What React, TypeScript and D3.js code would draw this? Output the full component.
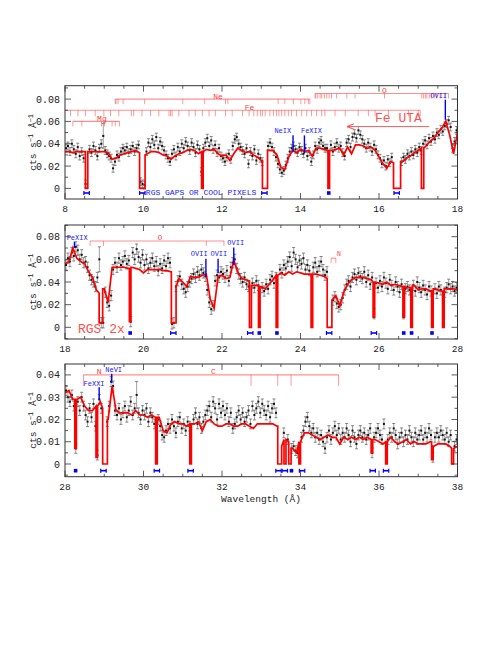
import React from 'react';
import * as d3 from 'd3';

const FONT = '"Liberation Mono", "DejaVu Sans Mono", monospace';
const L = 65;
const R = 457.5;

// ---- panel 1: 8-18 A, binned counts every 0.05 A (first bin centred 8.025)
const counts1 = [
  .036, .038, .033, .040, .035, .031, .037, .029, .033, .027,
  .004, null, .035, .032, .038, .034, .029, .036, .040, .047,
  .034, .031, .029, .027, .018, .024, .030, .028, .033, .036,
  .034, .037, .032, .035, .038, .033, .036, .039, .006, .004,
  .003, .033, .041, .037, .044, .039, .046, .036, .042, .038,
  .034, .030, .027, .024, .031, .035, .029, .037, .033, .040,
  .036, .042, .038, .034, .041, .037, .032, .039, .035, .015,
  .036, .041, .045, .038, .043, .035, .039, .032, .036, .029,
  .027, .024, .028, .031, .026, .038, .044, .046, .040, .037,
  .034, .031, .036, .022, .033, .029, .035, .025, .031, .027,
  .024, null, null, .038, .041, .037, .033, .028, .022, .017,
  .014, .016, .021, .027, .033, .036, .038, .035, .032, .037,
  .034, .031, .036, .029, .033, .024, .030, .038, .035, .041,
  .043, .038, .036, .036, null, .039, .033, .037, .041, .036,
  .038, .032, .029, .041, .044, .037, .046, .049, .045, .052,
  .048, .044, .040, .036, .041, .037, .033, .039, .035, .030,
  .027, .022, .025, .020, .026, .023, .028, null, null, null,
  null, .024, .028, .026, .031, .029, .033, .030, .035, .032,
  .037, .034, .040, .043, .039, .045, .042, .047, .044, .050,
  .048, .053, .051, .056, .058, .061, .055, .036, .042, .052,
];
// model on a 0.1 A grid, 8.0 .. 18.0
const model1 = [
  .033, .033, .032, .033, .033, .033, .033, .033, .033, .033,
  .033, .032, .026, .027, .030, .031, .032, .033, .034, .032,
  .030, .031, .033, .033, .032, .030, .029, .026, .029, .031,
  .032, .034, .035, .034, .031, .033, .035, .034, .035, .031,
  .029, .030, .025, .031, .036, .034, .032, .033, .030, .028,
  .025, .033, .034, .034, .030, .019, .017, .028, .034, .032,
  .035, .033, .034, .029, .036, .036, .035, .034, .034, .035,
  .036, .030, .037, .031, .039, .039, .038, .036, .037, .034,
  .028, .022, .018, .024, .023, .023, .024, .027, .029, .032,
  .034, .036, .038, .042, .045, .050, .054, .060, .048, .031,
  .050,
];
const gaps1 = [[8.52, 8.58, 0], [9.9, 10.04, 0], [11.48, 11.52, 0], [13.03, 13.16, 0],
  [14.7, 14.74, 0], [16.37, 16.55, 0], [17.08, 17.14, 0]];
const marks1: [number, string][] = [[8.55, 'h'], [9.97, 'h'], [13.08, 'h'], [14.72, 's'], [16.45, 'h']];

// ---- panel 2: 18-28 A
const counts2 = [
  .055, .061, .058, .066, .063, .071, .068, .060, .064, .057,
  .058, .053, .046, .042, .040, .036, .044, .060, .004, .004,
  .031, .022, .019, .028, .051, .057, .053, .061, .055, .058,
  .063, .056, .059, .005, .066, .060, .069, .062, .057, .064,
  .055, .060, .052, .057, .061, .054, .058, .050, .056, .052,
  .059, .054, .061, .057, .003, .004, .036, .041, .045, .038,
  .034, .031, .036, .040, .043, .047, .044, .049, .046, .051,
  .048, .045, .033, .022, .016, .019, .041, .046, .044, .049,
  .047, .044, .050, .041, .053, .057, .060, .052, .047, .043,
  .040, .044, .038, .036, null, .039, .035, .041, .037, null,
  .035, .032, .038, .034, .042, .045, .039, .044, null, .051,
  .048, .055, .052, .058, .062, .054, .066, .060, .053, .059,
  .056, .061, .051, .055, .050, null, .053, .057, .049, .054,
  .058, .051, .046, .049, null, null, .024, .027, .021, .018,
  .020, .026, .033, .038, .041, .036, .044, .047, .042, .048,
  .045, .043, .049, .040, .046, .038, .044, .012, .039, .035,
  .041, .036, .044, .039, .034, .042, .037, .033, .040, .036,
  .031, .038, .012, .034, .036, .033, null, .037, .032, .040,
  .035, .031, .037, .033, .029, .036, .032, null, .034, .030,
  .036, .033, null, .031, .035, .038, .034, .036, .032, .035,
];
const model2 = [
  .056, .058, .070, .061, .058, .056, .049, .044, .033, .030,
  .034, .022, .053, .053, .053, .053, .052, .053, .052, .051,
  .048, .051, .051, .051, .051, .050, .050, .049, .036, .043,
  .040, .036, .045, .044, .044, .046, .047, .025, .017, .045,
  .046, .043, .044, .059, .049, .043, .042, .041, .037, .037,
  .036, .034, .038, .042, .046, .048, .046, .049, .047, .049,
  .048, .047, .047, .047, .047, .046, .045, .043, .024, .028,
  .019, .031, .038, .042, .044, .044, .044, .043, .042, .040,
  .039, .038, .040, .037, .038, .037, .036, .035, .035, .037,
  .033, .034, .034, .032, .034, .033, .032, .034, .034, .034,
  .033,
];
const gaps2 = [[18.87, 18.96, 0.004], [19.64, 19.68, 0.005], [20.71, 20.83, 0.004], [22.7, 22.75, 0],
  [22.93, 22.97, 0], [23.38, 23.42, 0], [24.27, 24.31, 0], [24.68, 24.8, 0], [25.85, 25.89, 0.009],
  [26.61, 26.65, 0.009], [26.81, 26.85, 0], [27.34, 27.38, 0], [27.62, 27.66, 0]];
const marks2: [number, string][] = [[19.66, 's'], [20.76, 'h'], [22.72, 'h'], [22.95, 's'], [23.4, 's'],
  [24.73, 'h'], [25.87, 'h'], [26.63, 's'], [26.83, 's'], [27.35, 's']];

// ---- panel 3: 28-38 A
const counts3 = [
  .033, .030, .028, .031, .026, .007, .028, .024, .030, .026,
  .022, .019, .025, .021, .027, .017, .004, .029, .025, null,
  null, .019, .026, .037, .035, .024, .022, .025, .020, .023,
  .026, .021, .024, .028, .022, .025, .031, .023, .020, .024,
  .022, .025, .019, .023, .021, .018, null, .020, .017, .013,
  .012, .015, .018, .016, .020, .017, .014, .019, .021, .016,
  .018, .015, .019, .017, null, .020, .023, .018, .021, .016,
  .019, .022, .024, .026, .021, .028, .025, .020, .027, .023,
  .026, .022, .025, .019, .023, .016, .018, .021, .024, .020,
  .023, .019, .021, .024, .018, .026, .022, .025, .028, .023,
  .027, .024, .022, .026, .021, .025, .027, .023, null, null,
  null, .014, null, .011, null, .007, .008, .006, .005, null,
  .012, .015, .019, .021, .017, .014, .016, .012, .014, .011,
  .013, .010, .007, .012, .015, .011, .014, .017, .013, .016,
  .011, .014, .012, .016, .013, .010, .015, .012, .009, .013,
  .015, .012, .014, .011, .013, .016, .005, .012, .014, .016,
  .013, .011, .018, null, .011, .014, .012, .016, .013, .009,
  .012, .014, .010, .013, .011, .015, .012, .010, .014, .011,
  .013, .015, .011, .014, .012, .016, .013, .003, .012, .014,
  .012, .015, .013, .011, .014, .010, .013, null, .008, .011,
];
const model3 = [
  .032, .033, .029, .029, .030, .026, .024, .024, .026, .028,
  .025, .020, .035, .024, .023, .023, .023, .022, .024, .022,
  .022, .021, .022, .021, .021, .015, .014, .018, .019, .018,
  .018, .017, .018, .018, .019, .015, .019, .020, .018, .017,
  .017, .018, .018, .017, .017, .018, .018, .017, .016, .018,
  .018, .018, .018, .018, .017, .008, .011, .010, .007, .005,
  .010, .014, .014, .013, .012, .011, .012, .013, .012, .012,
  .009, .012, .011, .012, .011, .012, .011, .012, .011, .011,
  .010, .009, .010, .012, .010, .009, .010, .011, .009, .010,
  .009, .009, .009, .010, .008, .009, .009, .009, .008, .007,
  .008,
];
const gaps3 = [[28.25, 28.29, 0.007], [28.79, 28.83, 0.003], [28.96, 29.08, 0], [30.31, 30.35, 0],
  [31.18, 31.22, 0], [33.42, 33.52, 0], [33.58, 33.63, 0], [33.7, 33.76, 0], [33.96, 34.0, 0],
  [35.8, 35.84, 0.005], [36.17, 36.21, 0], [37.34, 37.38, 0.002], [37.85, 37.9, 0]];
const marks3: [number, string][] = [[28.27, 's'], [28.98, 'h'], [30.34, 'h'], [31.2, 'h'], [33.44, 'h'],
  [33.6, 'h'], [33.77, 's'], [34.04, 'h'], [35.84, 'h'], [36.18, 'h']];

// line identification ticks (A)
const neTicks = [9.28, 9.3, 9.35, 9.48, 10.03, 11.0, 11.56, 12.09, 12.15, 13.43, 13.6, 13.82, 14.01, 14.11, 14.2, 14.24];
const feTicks = [8.14, 8.33, 8.52, 8.77, 8.99, 9.16, 9.37, 9.69, 9.75, 9.96, 10.18, 10.39, 10.65, 10.69, 10.73,
  10.9, 11.16, 11.32, 11.5, 11.67, 11.83, 12.09, 12.26, 12.52, 12.69, 12.81, 12.9, 12.98, 13.03, 13.1,
  13.22, 13.31, 13.39, 13.45, 13.52, 13.6, 13.69, 13.77, 13.9, 14.03, 14.16, 14.28, 14.41, 14.54, 14.62,
  14.88, 15.14, 15.47, 15.73, 15.9, 16.24, 16.75, 17.0, 17.05];
const oTicks1 = [14.37, 14.39, 14.44, 14.5, 14.54, 14.61, 14.67, 14.73, 14.79, 14.92, 15.18, 15.39, 16.14,
  17.09, 17.13, 17.18, 17.22, 17.28, 17.34, 17.41, 17.47, 17.56, 17.69, 17.77];
const mgTicks = [8.2, 8.43, 8.93, 9.01, 9.2, 9.28, 9.39];
const oTicks2 = [18.64, 18.98, 21.6, 22.05];
const nTicks2 = [24.78, 24.9];
const cTicks = [28.47, 32.74, 33.42, 33.76, 34.97];

type Bracket = { lo: number; hi: number; y: number; ticks: number[]; len: number; label: string; lx: number };
type Ident = { text: string; lx: number; ly: number; x: number; y0: number; y1: number };

const panels = [
  {
    id: 1, x0: 8, counts: counts1, model: model1, gaps: gaps1, marks: marks1,
    yDom: [-0.0095, 0.092], top: 85.7, bottom: 199, yMajor: 0.02, yMinor: 0.01, err: 0.0035, bigErr: { 19: 0.011 },
    brackets: [
      { lo: 9.28, hi: 14.24, y: 0.08, ticks: neTicks, len: 5, label: 'Ne', lx: 11.9 },
      { lo: 8.0, hi: 17.05, y: 0.07, ticks: feTicks, len: 6, label: 'Fe', lx: 12.7 },
      { lo: 14.37, hi: 17.77, y: 0.085, ticks: oTicks1, len: 5, label: 'O', lx: 16.14 },
      { lo: 8.2, hi: 9.39, y: 0.06, ticks: mgTicks, len: 5, label: 'Mg', lx: 8.94 },
    ] as Bracket[],
    idents: [
      { text: 'OVII', lx: 17.52, ly: 0.081, x: 17.69, y0: 0.0795, y1: 0.0615 },
      { text: 'NeIX', lx: 13.55, ly: 0.0495, x: 13.81, y0: 0.0475, y1: 0.0328 },
      { text: 'FeXIX', lx: 14.28, ly: 0.0495, x: 14.1, y0: 0.0475, y1: 0.0314 },
    ] as Ident[],
  },
  {
    id: 2, x0: 18, counts: counts2, model: model2, gaps: gaps2, marks: marks2,
    yDom: [-0.0103, 0.0903], top: 225, bottom: 339, yMajor: 0.02, yMinor: 0.01, err: 0.0045, bigErr: { 17: 0.011 },
    brackets: [
      { lo: 18.64, hi: 22.05, y: 0.0762, ticks: oTicks2, len: 5, label: 'O', lx: 20.42 },
      { lo: 24.78, hi: 24.9, y: 0.061, ticks: nTicks2, len: 5, label: '', lx: 24.9 },
    ] as Bracket[],
    idents: [
      { text: 'FeXIX', lx: 18.31, ly: 0.0768, x: 18.24, y0: 0.0755, y1: 0.070 },
      { text: 'OVII', lx: 21.42, ly: 0.063, x: 21.59, y0: 0.0605, y1: 0.0444 },
      { text: 'OVII', lx: 21.92, ly: 0.063, x: 21.9, y0: 0.0605, y1: 0.048 },
      { text: 'OVII', lx: 22.35, ly: 0.0727, x: 22.3, y0: 0.0705, y1: 0.055 },
    ] as Ident[],
  },
  {
    id: 3, x0: 28, counts: counts3, model: model3, gaps: gaps3, marks: marks3,
    yDom: [-0.0057, 0.0449], top: 364, bottom: 476.7, yMajor: 0.01, yMinor: 0.005, err: 0.0022, bigErr: { 36: 0.006 },
    brackets: [
      { lo: 28.47, hi: 34.97, y: 0.04, ticks: cTicks, len: 11, label: 'C', lx: 31.78 },
    ] as Bracket[],
    idents: [
      { text: 'NeVI', lx: 29.24, ly: 0.0415, x: 29.19, y0: 0.0405, y1: 0.0364 },
      { text: 'FeXXI', lx: 28.74, ly: 0.0352, x: 28.87, y0: 0.0345, y1: 0.0288 },
    ] as Ident[],
  },
];

function modelPoints(x0: number, vals: number[], gaps: number[][]) {
  const near = (l: number) => vals[Math.max(0, Math.min(vals.length - 1, Math.round((l - x0) / 0.1)))];
  const gs = [...gaps].sort((a, b) => a[0] - b[0]);
  const out: [number, number][] = [];
  let g = 0;
  vals.forEach((v, i) => {
    const l = Math.round((x0 + i * 0.1) * 1000) / 1000;
    while (g < gs.length && gs[g][0] < l) {
      const [lo, hi, d] = gs[g];
      out.push([lo, near(lo)], [lo, d], [hi, d], [hi, near(hi)]);
      g++;
    }
    if (gs.some(([lo, hi]) => l > lo && l < hi)) return;
    out.push([l, v]);
  });
  return out;
}

function Panel({ p }: { p: any }) {
  const x = d3.scaleLinear().domain([p.x0, p.x0 + 10]).range([L, R]);
  const y = d3.scaleLinear().domain(p.yDom).range([p.bottom, p.top]);
  const clip = `clip-${p.id}`;
  const line = d3.line<[number, number]>().x(d => x(d[0])).y(d => y(d[1]));
  const pts = modelPoints(p.x0, p.model, p.gaps);

  const xMinor = d3.range(0, 21).map(k => p.x0 + k * 0.5);
  const xMajor = d3.range(0, 6).map(k => p.x0 + k * 2);
  const yMin = d3.range(Math.ceil(p.yDom[0] / p.yMinor), Math.floor(p.yDom[1] / p.yMinor) + 1).map(k => k * p.yMinor);
  const yMaj = d3.range(0, Math.floor(p.yDom[1] / p.yMajor + 1e-6) + 1).map(k => k * p.yMajor);
  const axis = '#333';
  const markY = p.bottom - 6;
  const mid = (p.top + p.bottom) / 2;

  return (
    <g>
      <defs>
        <clipPath id={clip}>
          <rect x={L} y={p.top} width={R - L} height={p.bottom - p.top} />
        </clipPath>
      </defs>

      {/* annotation brackets */}
      {p.brackets.map((b: Bracket, i: number) => (
        <g key={'b' + i}>
          <line x1={x(b.lo)} x2={x(b.hi)} y1={y(b.y)} y2={y(b.y)} stroke="#ff9090" strokeWidth={1.2} />
          {b.ticks.map((t, j) => (
            <line key={j} x1={x(t)} x2={x(t)} y1={y(b.y)} y2={y(b.y) + b.len} stroke="#ff3030" strokeOpacity={0.55} strokeWidth={0.9} />
          ))}
          {b.label && (
            <text x={x(b.lx)} y={y(b.y) - 0.5} textAnchor="middle" fontSize={8} fill="#ff4040" fontFamily={FONT}>{b.label}</text>
          )}
        </g>
      ))}

      <g clipPath={`url(#${clip})`}>
        {/* data with error bars */}
        {p.counts.map((v: number | null, i: number) => {
          if (v === null) return null;
          const l = p.x0 + 0.025 + i * 0.05;
          const e = p.bigErr[i] ?? p.err;
          const cx = x(l);
          return (
            <g key={i}>
              <line x1={cx} x2={cx} y1={y(v - e)} y2={y(v + e)} stroke="#888" strokeWidth={0.8} />
              <line x1={cx - 1.5} x2={cx + 1.5} y1={y(v - e)} y2={y(v - e)} stroke="#666" strokeWidth={0.8} />
              <line x1={cx - 1.5} x2={cx + 1.5} y1={y(v + e)} y2={y(v + e)} stroke="#666" strokeWidth={0.8} />
              <rect x={cx - 1} y={y(v) - 1} width={2} height={2} fill="#111" />
            </g>
          );
        })}
        {/* model */}
        <path d={line(pts) || ''} fill="none" stroke="#ff0000" strokeWidth={1.7} strokeLinejoin="miter" />
      </g>

      {/* identified lines */}
      {p.idents.map((d: Ident, i: number) => (
        <g key={'id' + i}>
          <line x1={x(d.x)} x2={x(d.x)} y1={y(d.y0)} y2={y(d.y1)} stroke="#0000ff" strokeWidth={1.4} />
          <text x={x(d.lx)} y={y(d.ly)} textAnchor="middle" fontSize={7} fill="#2020ff" fontFamily={FONT}>{d.text}</text>
        </g>
      ))}

      {/* gap markers */}
      {p.marks.map(([l, k]: [number, string], i: number) => {
        const cx = x(l);
        return k === 's' ? (
          <rect key={'m' + i} x={cx - 1.8} y={markY - 1.8} width={3.6} height={3.6} fill="#0000ff" />
        ) : (
          <g key={'m' + i} stroke="#0000ff">
            <line x1={cx - 2.7} x2={cx + 2.7} y1={markY} y2={markY} strokeWidth={1.6} />
            <line x1={cx - 2.7} x2={cx - 2.7} y1={markY - 2} y2={markY + 2} strokeWidth={1.2} />
            <line x1={cx + 2.7} x2={cx + 2.7} y1={markY - 2} y2={markY + 2} strokeWidth={1.2} />
          </g>
        );
      })}

      {/* frame and ticks */}
      <rect x={L} y={p.top} width={R - L} height={p.bottom - p.top} fill="none" stroke={axis} strokeWidth={1} />
      {xMinor.map((t: number, i: number) => {
        const big = Math.abs((t - p.x0) % 2) < 1e-6;
        const len = big ? 6 : 3;
        return (
          <g key={'xt' + i} stroke={axis} strokeWidth={0.8}>
            <line x1={x(t)} x2={x(t)} y1={p.bottom} y2={p.bottom - len} />
            <line x1={x(t)} x2={x(t)} y1={p.top} y2={p.top + len} />
          </g>
        );
      })}
      {yMin.map((t: number, i: number) => {
        const big = Math.abs(t / p.yMajor - Math.round(t / p.yMajor)) < 1e-6;
        const len = big ? 6 : 3;
        return (
          <g key={'yt' + i} stroke={axis} strokeWidth={0.8}>
            <line x1={L} x2={L + len} y1={y(t)} y2={y(t)} />
            <line x1={R} x2={R - len} y1={y(t)} y2={y(t)} />
          </g>
        );
      })}
      {xMajor.map((t: number, i: number) => (
        <text key={'xl' + i} x={x(t)} y={p.bottom + 13} textAnchor="middle" fontSize={9.5} fill="#222" fontFamily={FONT}>{t}</text>
      ))}
      {yMaj.map((t: number, i: number) => (
        <text key={'yl' + i} x={60} y={y(t) + 3.5} textAnchor="end" fontSize={10} fill="#222" fontFamily={FONT}>
          {t === 0 ? '0' : d3.format('.2f')(t)}
        </text>
      ))}
      <text transform={`translate(36,${mid}) rotate(-90)`} textAnchor="middle" fontSize={9.5} fill="#222" fontFamily={FONT}>
        cts s<tspan dy={-3.5} fontSize={7}>−1</tspan><tspan dy={3.5}> Å</tspan><tspan dy={-3.5} fontSize={7}>−1</tspan>
      </text>
    </g>
  );
}

export default function App() {
  const [p1, p2, p3] = panels;
  const x1 = d3.scaleLinear().domain([8, 18]).range([L, R]);
  const y1 = d3.scaleLinear().domain(p1.yDom).range([p1.bottom, p1.top]);
  const x2 = d3.scaleLinear().domain([18, 28]).range([L, R]);
  const y2 = d3.scaleLinear().domain(p2.yDom).range([p2.bottom, p2.top]);
  const x3 = d3.scaleLinear().domain([28, 38]).range([L, R]);
  const y3 = d3.scaleLinear().domain(p3.yDom).range([p3.bottom, p3.top]);

  return (
    <svg width={498} height={645} style={{ position: 'absolute', left: 0, top: 0, background: '#fff' }}>
      <rect width={498} height={645} fill="#fff" />
      {panels.map(p => <Panel key={p.id} p={p} />)}

      {/* panel 1 extras */}
      <defs>
        <marker id="arr" viewBox="0 0 10 10" refX="9" refY="5" markerWidth="7" markerHeight="7" orient="auto">
          <path d="M0,1 L10,5 L0,9" fill="none" stroke="#ff5050" strokeWidth={1.5} />
        </marker>
      </defs>
      <text x={x1(15.9)} y={y1(0.0595)} fontSize={13} fill="#ff5050" fontFamily={FONT}>Fe UTA</text>
      <line x1={x1(17.28)} x2={x1(15.2)} y1={y1(0.0554)} y2={y1(0.0554)} stroke="#ff6060" strokeWidth={1} markerEnd="url(#arr)" />
      <text x={x1(10.06)} y={y1(-0.0057)} fontSize={8} fill="#2020ff" fontFamily={FONT}>RGS GAPS OR COOL PIXELS</text>

      {/* panel 2 extras */}
      <text x={x2(24.93)} y={y2(0.063)} fontSize={6.5} fill="#ff4040" fontFamily={FONT}>N</text>
      <text x={x2(18.33)} y={y2(-0.005)} fontSize={13} fill="#ff5050" fontFamily={FONT}>RGS 2x</text>

      {/* panel 3 extras */}
      <text x={x3(28.87)} y={y3(0.0405)} textAnchor="middle" fontSize={8} fill="#ff4040" fontFamily={FONT}>N</text>

      <text x={261} y={502} textAnchor="middle" fontSize={9.5} fill="#222" fontFamily={FONT}>Wavelength (Å)</text>
    </svg>
  );
}
